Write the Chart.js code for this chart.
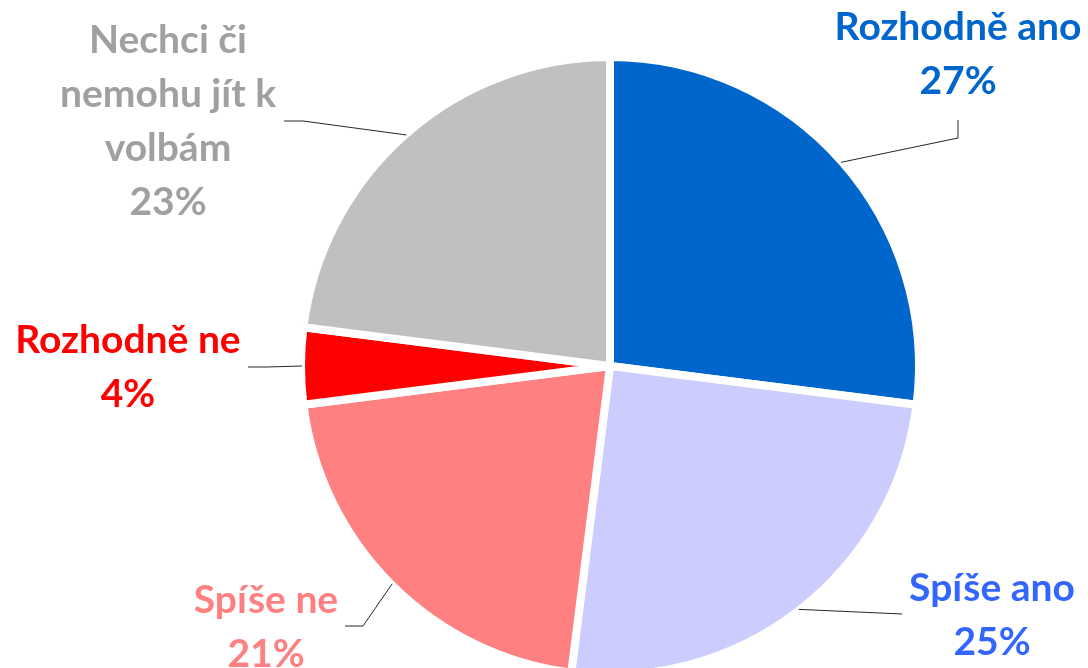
<!DOCTYPE html>
<html lang="cs">
<head>
    <meta charset="UTF-8">
    <title>Účast u voleb</title>
    <script src="https://cdn.jsdelivr.net/npm/chart.js"></script>
    <style>
        html, body { margin: 0; padding: 0; background: #fff; overflow: hidden; }
        #wrap { width: 1088px; height: 668px; }
    </style>
</head>
<body>
<div id="wrap"><canvas id="pie" width="1088" height="668"></canvas></div>
<script>
    // data
    const categories = [
        'Rozhodně ano',
        'Spíše ano',
        'Spíše ne',
        'Rozhodně ne',
        ['Nechci či', 'nemohu jít k', 'volbám']
    ];
    const shares = [27, 25, 21, 4, 23];

    const sliceColors = ['#0066CC', '#CCCCFF', '#FF8080', '#FF0000', '#C0C0C0'];
    const textColors  = ['#0066CC', '#3366FF', '#FF8080', '#FF0000', '#A0A0A0'];

    // where each label sits and how its leader line bends
    const labelLayout = [
        { x: 958, top: 27,  elbow: [958, 138], end: [958, 120] },
        { x: 992, top: 588, elbow: [902, 614], end: [902, 614] },
        { x: 266, top: 600, elbow: [363, 626], end: [345, 626] },
        { x: 128, top: 340, elbow: [267, 367], end: [248, 367] },
        { x: 168, top: 40,  elbow: [303, 121], end: [284, 121] }
    ];

    const outerLabels = {
        id: 'outerLabels',
        afterDraw(chart) {
            const ctx = chart.ctx;
            const arcs = chart.getDatasetMeta(0).data;
            ctx.save();
            arcs.forEach((arc, i) => {
                const p = arc.getProps(['x', 'y', 'startAngle', 'endAngle', 'outerRadius'], true);
                const mid = (p.startAngle + p.endAngle) / 2;
                const sx = p.x + Math.cos(mid) * (p.outerRadius - 1);
                const sy = p.y + Math.sin(mid) * (p.outerRadius - 1);
                const lay = labelLayout[i];

                // leader line
                ctx.strokeStyle = '#262626';
                ctx.lineWidth = 1;
                ctx.beginPath();
                ctx.moveTo(sx, sy);
                ctx.lineTo(lay.elbow[0], lay.elbow[1]);
                ctx.lineTo(lay.end[0], lay.end[1]);
                ctx.stroke();

                // text
                const name = categories[i];
                const lines = (Array.isArray(name) ? name : [name]).concat([shares[i] + '%']);
                ctx.fillStyle = textColors[i];
                ctx.font = 'bold 39px Lato';
                ctx.textAlign = 'center';
                ctx.textBaseline = 'middle';
                lines.forEach((t, k) => ctx.fillText(t, lay.x, lay.top + k * 54));
            });
            ctx.restore();
        }
    };

    new Chart(document.getElementById('pie'), {
        type: 'pie',
        data: {
            labels: categories,
            datasets: [{
                data: shares,
                backgroundColor: sliceColors,
                borderColor: '#ffffff',
                borderWidth: 8
            }]
        },
        options: {
            responsive: false,
            animation: false,
            radius: 309,
            layout: { padding: { left: 132, top: 64, right: 0, bottom: 0 } },
            plugins: {
                legend: { display: false },
                tooltip: { enabled: false }
            }
        },
        plugins: [outerLabels]
    });
</script>
</body>
</html>
